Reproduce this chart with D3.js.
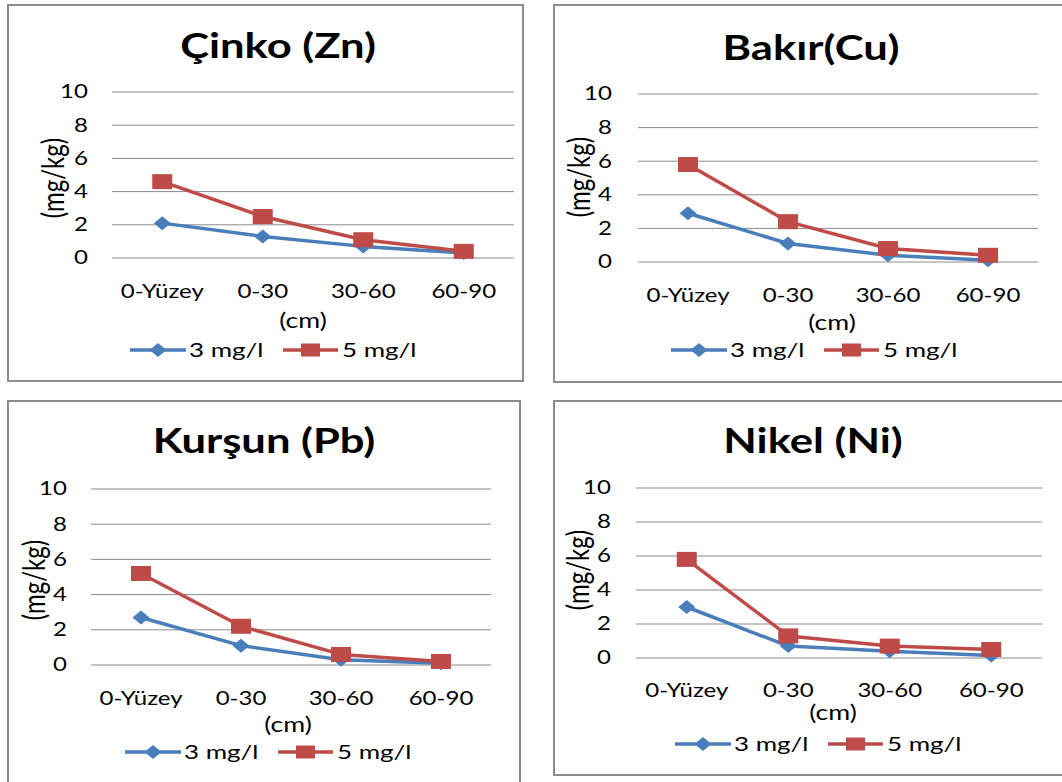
<!DOCTYPE html>
<html>
<head>
<meta charset="utf-8">
<script src="https://cdn.jsdelivr.net/npm/d3@7/dist/d3.min.js"></script>
<style>
  html, body { margin: 0; padding: 0; background: #ffffff; }
  svg { display: block; }
  text { font-family: Lato, "Open Sans", sans-serif; fill: #000; }
</style>
</head>
<body>
<svg id="chart" width="1062" height="782"></svg>
<script>
// Depth classes of the soil profile
const depths = ["0-Yüzey", "0-30", "30-60", "60-90"];
const yTicks = [0, 2, 4, 6, 8, 10];
const seriesNames = ["3 mg/l", "5 mg/l"];

// Metal concentrations (mg/kg) per depth, for the two application doses
const znTitle = "Çinko (Zn)";
const zn3 = [2.1, 1.3, 0.7, 0.3];
const zn5 = [4.6, 2.5, 1.1, 0.4];

const cuTitle = "Bakır(Cu)";
const cu3 = [2.9, 1.1, 0.4, 0.1];
const cu5 = [5.8, 2.4, 0.8, 0.4];

const pbTitle = "Kurşun (Pb)";
const pb3 = [2.7, 1.1, 0.3, 0.1];
const pb5 = [5.2, 2.2, 0.6, 0.2];

const niTitle = "Nikel (Ni)";
const ni3 = [3.0, 0.7, 0.4, 0.15];
const ni5 = [5.8, 1.3, 0.7, 0.5];

const yLabel = "(mg/kg)";
const xLabel = "(cm)";

// Panel frames and plot placement
const panels = [
  { title: znTitle, s3: zn3, s5: zn5, box: [8, 5, 523, 381],  px: [112, 514], py: [258, 92],
    titleX: 278, titleY: 58, tickR: 88, yTitle: [53, 178], xLabY: 298, cm: [303, 328], legY: 350, legX: 130 },
  { title: cuTitle, s3: cu3, s5: cu5, box: [554, 5, 1080, 382], px: [638, 1038], py: [262, 94],
    titleX: 811, titleY: 60, tickR: 612, yTitle: [579, 177], xLabY: 302, cm: [832, 330], legY: 350, legX: 671 },
  { title: pbTitle, s3: pb3, s5: pb5, box: [8, 401, 520, 800], px: [91, 491], py: [665, 489],
    titleX: 264, titleY: 453, tickR: 67, yTitle: [34, 580], xLabY: 705, cm: [288, 732], legY: 752, legX: 125 },
  { title: niTitle, s3: ni3, s5: ni5, box: [554, 401, 1080, 775], px: [636, 1042], py: [658, 488],
    titleX: 813, titleY: 453, tickR: 611, yTitle: [578, 570], xLabY: 697, cm: [833, 720], legY: 744, legX: 675 }
];

const BLUE = "#4a7ebb", RED = "#be4b48", GRID = "#8a8a8a", FRAME = "#8c8c8c";
const SX = 1.3; // horizontal widening of the lettering

const svg = d3.select("#chart");

function label(g, str, x, y, opts) {
  const t = g.append("text")
    .attr("transform", `translate(${x},${y}) scale(${SX},1)` + (opts.rotate ? " rotate(-90)" : ""))
    .attr("text-anchor", opts.anchor || "start")
    .attr("font-size", opts.size)
    .attr("font-weight", opts.weight || "normal")
    .text(str);
  if (opts.middle) t.attr("dy", "0.35em");
  return t;
}

const diamond = (cx, cy) => `M${cx},${cy - 7}L${cx + 8.5},${cy}L${cx},${cy + 7}L${cx - 8.5},${cy}Z`;

panels.forEach(p => {
  const g = svg.append("g");
  const [bx0, by0, bx1, by1] = p.box;
  g.append("rect")
    .attr("x", bx0).attr("y", by0)
    .attr("width", bx1 - bx0).attr("height", by1 - by0)
    .attr("fill", "#fff").attr("stroke", FRAME).attr("stroke-width", 2);

  const x = d3.scalePoint().domain(depths).range(p.px).padding(0.5);
  const y = d3.scaleLinear().domain([0, 10]).range(p.py);

  // horizontal gridlines
  g.selectAll("line.grid").data(yTicks).join("line")
    .attr("class", "grid")
    .attr("x1", p.px[0]).attr("x2", p.px[1])
    .attr("y1", d => y(d)).attr("y2", d => y(d))
    .attr("stroke", GRID).attr("stroke-width", 1);

  // value axis labels
  yTicks.forEach(v => label(g, String(v), p.tickR, y(v), { anchor: "end", size: 18.5, middle: true }));

  // depth labels
  depths.forEach(d => label(g, d, x(d), p.xLabY, { anchor: "middle", size: 18.5 }));

  // titles
  label(g, p.title, p.titleX, p.titleY, { anchor: "middle", size: 33.5, weight: "bold" });
  label(g, xLabel, p.cm[0], p.cm[1], { anchor: "middle", size: 20.5 });
  label(g, yLabel, p.yTitle[0], p.yTitle[1], { anchor: "middle", size: 24, rotate: true, middle: true });

  const line = d3.line().x((d, i) => x(depths[i])).y(d => y(d));

  // 3 mg/l series
  g.append("path").datum(p.s3).attr("d", line)
    .attr("fill", "none").attr("stroke", BLUE).attr("stroke-width", 3.5).attr("stroke-linejoin", "round");
  // 5 mg/l series
  g.append("path").datum(p.s5).attr("d", line)
    .attr("fill", "none").attr("stroke", RED).attr("stroke-width", 3.5).attr("stroke-linejoin", "round");

  g.selectAll("path.m3").data(p.s3).join("path")
    .attr("class", "m3")
    .attr("d", (d, i) => diamond(x(depths[i]), y(d)))
    .attr("fill", BLUE);
  g.selectAll("rect.m5").data(p.s5).join("rect")
    .attr("class", "m5")
    .attr("x", (d, i) => x(depths[i]) - 10).attr("y", d => y(d) - 7.5)
    .attr("width", 20).attr("height", 15)
    .attr("fill", RED);

  // legend
  const L = p.legX, ly = p.legY;
  g.append("line").attr("x1", L).attr("x2", L + 56).attr("y1", ly).attr("y2", ly)
    .attr("stroke", BLUE).attr("stroke-width", 3.5);
  g.append("path").attr("d", diamond(L + 28, ly)).attr("fill", BLUE);
  label(g, seriesNames[0], L + 59, ly, { size: 20, middle: true });

  g.append("line").attr("x1", L + 153).attr("x2", L + 208).attr("y1", ly).attr("y2", ly)
    .attr("stroke", RED).attr("stroke-width", 3.5);
  g.append("rect").attr("x", L + 171).attr("y", ly - 6.5).attr("width", 19).attr("height", 13).attr("fill", RED);
  label(g, seriesNames[1], L + 212, ly, { size: 20, middle: true });
});
</script>
</body>
</html>
